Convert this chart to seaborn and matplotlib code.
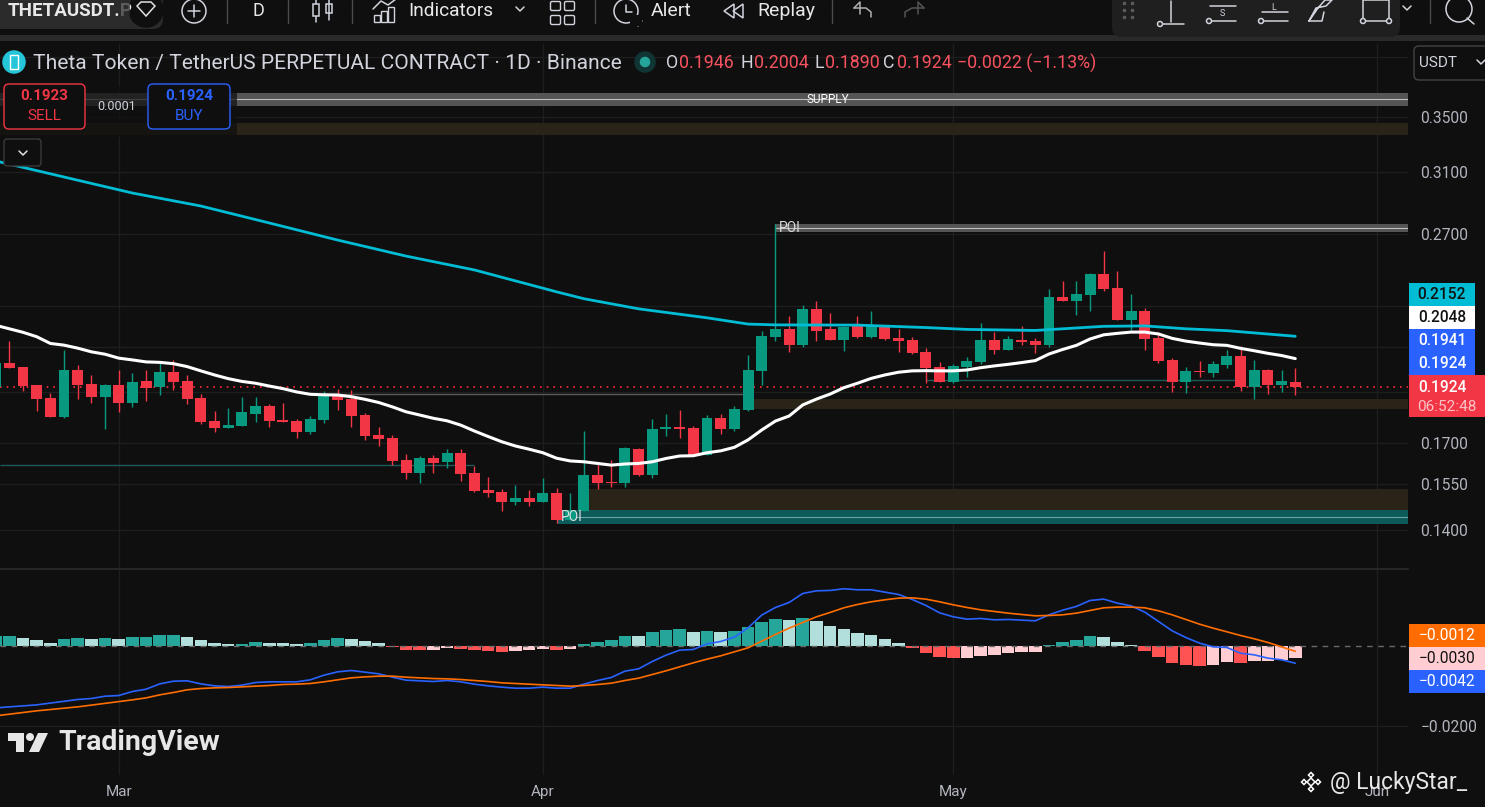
import matplotlib
matplotlib.use("Agg")
import matplotlib.pyplot as plt
import seaborn as sns
from matplotlib.patches import Circle, FancyBboxPatch, Polygon, Rectangle

# Daily candles, left to right. Day 9 = 1 Mar, 40 = 1 Apr, 70 = 1 May, 101 = 1 Jun
opens = [.1922, .2028, .2010, .1932, .1876, .1799, .1997, .1936, .1880, .1932, .1856, .1948,
         .1923, .1988, .1948, .1876, .1783, .1756, .1763, .1811, .1843, .1787, .1783, .1740,
         .1787, .1885, .1872, .1807, .1729, .1718, .1635, .1589, .1642, .1628, .1661, .1589,
         .1530, .1523, .1490, .1503, .1490, .1520, .1432, .1461, .1582, .1557, .1553, .1676,
         .1582, .1752, .1760, .1756, .1653, .1795, .1752, .1827, .1993, .2148, .2187, .2110,
         .2286, .2187, .2134, .2202, .2148, .2202, .2143, .2134, .2078, .2010, .1944, .2010,
         .2033, .2134, .2087, .2134, .2129, .2110, .2348, .2327, .2358, .2471, .2395, .2231,
         .2276, .2143, .2042, .1944, .1993, .1984, .2019, .2060, .1923, .1997, .1932, .1946]
highs = [.2060, .2129, .2010, .1932, .1897, .2087, .2019, .1975, .1936, .1997, .1984, .1997,
         .2037, .2042, .1975, .1893, .1823, .1835, .1880, .1880, .1852, .1856, .1791, .1803,
         .1906, .1914, .1910, .1815, .1760, .1729, .1657, .1650, .1653, .1676, .1676, .1614,
         .1575, .1534, .1547, .1530, .1571, .1537, .1520, .1744, .1624, .1635, .1683, .1680,
         .1791, .1811, .1827, .1763, .1807, .1811, .1843, .2064, .2177, .2761, .2251, .2306,
         .2327, .2266, .2202, .2251, .2276, .2202, .2187, .2148, .2096, .2033, .2024, .2056,
         .2216, .2172, .2153, .2202, .2143, .2390, .2433, .2433, .2476, .2600, .2487, .2363,
         .2291, .2172, .2051, .2010, .2037, .2037, .2087, .2105, .2042, .2001, .1997, .2004]
lows = [.1922, .2006, .1906, .1823, .1799, .1795, .1872, .1856, .1752, .1819, .1839, .1864,
        .1889, .1910, .1852, .1771, .1740, .1756, .1763, .1779, .1760, .1779, .1718, .1733,
        .1775, .1827, .1760, .1710, .1687, .1617, .1567, .1553, .1589, .1607, .1560, .1523,
        .1507, .1461, .1480, .1477, .1490, .1423, .1432, .1461, .1534, .1540, .1540, .1578,
        .1571, .1725, .1718, .1650, .1653, .1733, .1744, .1823, .1932, .2129, .2078, .2101,
        .2129, .2134, .2082, .2143, .2143, .2134, .2078, .2069, .1940, .1944, .1940, .1966,
        .2024, .2069, .2087, .2110, .2073, .2101, .2327, .2256, .2276, .2380, .2231, .2182,
        .2087, .2028, .1902, .1897, .1966, .1966, .2006, .1906, .1872, .1893, .1902, .1890]
closes = [.2028, .2006, .1927, .1872, .1799, .1997, .1932, .1880, .1932, .1856, .1944, .1919,
          .1988, .1944, .1872, .1779, .1756, .1767, .1819, .1843, .1783, .1779, .1740, .1791,
          .1885, .1868, .1803, .1725, .1714, .1631, .1589, .1642, .1624, .1661, .1586, .1527,
          .1520, .1490, .1503, .1490, .1520, .1432, .1464, .1582, .1553, .1553, .1680, .1582,
          .1752, .1760, .1752, .1653, .1795, .1752, .1831, .1997, .2153, .2187, .2110, .2286,
          .2177, .2134, .2197, .2148, .2202, .2139, .2129, .2073, .2006, .1944, .2015, .2037,
          .2134, .2087, .2139, .2124, .2110, .2348, .2327, .2363, .2471, .2390, .2231, .2276,
          .2139, .2037, .1944, .1993, .1988, .2024, .2060, .1923, .1997, .1932, .1948, .1924]

# White moving average, one value per candle
ma_white = [.2205, .2188, .2171, .2150, .2118, .2110, .2096, .2079, .2068, .2050, .2042, .2033,
            .2031, .2025, .2012, .1993, .1975, .1959, .1947, .1939, .1927, .1916, .1902, .1892,
            .1890, .1889, .1882, .1871, .1858, .1840, .1820, .1807, .1794, .1784, .1767, .1744,
            .1723, .1703, .1687, .1675, .1662, .1642, .1632, .1629, .1623, .1617, .1621, .1623,
            .1629, .1641, .1650, .1651, .1662, .1669, .1682, .1710, .1748, .1783, .1803, .1848,
            .1872, .1893, .1920, .1939, .1960, .1975, .1987, .1993, .1994, .1993, .1993, .1997,
            .2007, .2015, .2022, .2030, .2039, .2069, .2090, .2109, .2139, .2159, .2166, .2172,
            .2172, .2163, .2142, .2129, .2120, .2112, .2109, .2095, .2084, .2072, .2062, .2048]

# Cyan moving average, read at the bends
ma_cyan_days = [0, 5, 10, 15, 20, 25, 30, 35, 41, 43, 47, 52, 55, 57, 63, 68, 71, 76, 79, 81, 84, 87, 90, 95]
ma_cyan = [.3175, .3064, .2957, .2873, .2767, .2664, .2571, .2493, .2375, .2339, .2287, .2242,
           .2211, .2207, .2206, .2194, .2185, .2180, .2192, .2200, .2202, .2188, .2179, .2152]

# MACD pane
macd_days = [0, 3] + list(range(6, 96))
macd_line = [-.01542, -.01467, -.01332, -.01307, -.01249, -.01232, -.01131, -.01073, -.00939, -.00872,
             -.00863, -.00939, -.00989, -.01006, -.00972, -.00905, -.00888, -.00888, -.00888, -.00838,
             -.00721, -.00637, -.00603, -.00645, -.00687, -.00771, -.00846, -.00863, -.00880, -.00855,
             -.00888, -.00947, -.00989, -.01022, -.01048, -.01048, -.01022, -.01048, -.01048, -.00947,
             -.00855, -.00779, -.00620, -.00561, -.00377, -.00218, -.00092, -.00075, .00067, .00126,
             .00235, .00469, .00788, .00980, .01106, .01332, .01399, .01408, .01450, .01425,
             .01425, .01366, .01307, .01182, .01031, .00846, .00746, .00687, .00704, .00670,
             .00679, .00662, .00645, .00796, .00913, .01006, .01156, .01190, .01089, .01022,
             .00863, .00629, .00394, .00226, .00084, -.00008, -.00025, -.00168, -.00210, -.00293,
             -.00335, -.00420]
signal_days = [0, 3, 6] + list(range(10, 96))
signal_line = [-.01743, -.01617, -.01517, -.01341, -.01291, -.01215, -.01156, -.01089, -.01056, -.01039,
               -.01031, -.01014, -.00997, -.00980, -.00955, -.00947, -.00930, -.00888, -.00838, -.00788,
               -.00763, -.00746, -.00746, -.00771, -.00788, -.00805, -.00813, -.00830, -.00855, -.00880,
               -.00913, -.00930, -.00947, -.00964, -.00980, -.00997, -.00980, -.00955, -.00922, -.00855,
               -.00796, -.00704, -.00612, -.00511, -.00411, -.00318, -.00235, -.00134, -.00034, .00134,
               .00302, .00461, .00603, .00746, .00855, .00972, .01056, .01123, .01173, .01215,
               .01223, .01190, .01123, .01047, .00980, .00922, .00880, .00838, .00804, .00771,
               .00779, .00796, .00838, .00905, .00972, .00989, .00989, .00972, .00897, .00796,
               .00679, .00561, .00461, .00369, .00277, .00193, .00101, -.00010, -.00120]
histogram = [.00251, .00268, .00218, .00168, .00092, .00193, .00218, .00193, .00218, .00193, .00243, .00243,
             .00293, .00293, .00243, .00168, .00092, .00067, .00067, .00117, .00092, .00088, .00067, .00092,
             .00168, .00218, .00193, .00142, .00092, -.00008, -.00084, -.00084, -.00080, -.00034, -.00059, -.00084,
             -.00109, -.00134, -.00109, -.00084, -.00059, -.00084, -.00059, .00067, .00117, .00168, .00268, .00264,
             .00369, .00419, .00444, .00369, .00394, .00369, .00394, .00494, .00620, .00696, .00670, .00721,
             .00645, .00520, .00444, .00344, .00293, .00193, .00092, -.00034, -.00159, -.00260, -.00285, -.00281,
             -.00235, -.00210, -.00159, -.00134, -.00130, .00034, .00109, .00159, .00260, .00235, .00109, .00034,
             -.00117, -.00268, -.00419, -.00469, -.00494, -.00469, -.00394, -.00419, -.00369, -.00365, -.00344, -.00300]

price_ticks = [.40, .35, .31, .27, .23, .21, .19, .17, .155, .14]
price_tick_labels = ["", "0.3500", "0.3100", "0.2700", "", "", "", "0.1700", "0.1550", "0.1400"]
month_days = [9, 40, 70, 101]
month_labels = ["Mar", "Apr", "May", "Jun"]
last_price = .1924

BG = "#0f0f0f"
GRID = "#1e1e1e"
UP = "#089981"
DOWN = "#f23645"
TXT = "#b2b5be"
XMIN, XMAX = 0.32, 103.24

sns.set_theme(style="dark", rc={"figure.facecolor": BG, "axes.facecolor": BG})
plt.rcParams["font.family"] = ["Roboto", "DejaVu Sans"]

W, H = 1485, 807
fig = plt.figure(figsize=(W / 100, H / 100), dpi=100)
ax = fig.add_axes([0, (H - 568) / H, 1408 / W, (568 - 37) / H])
ax_m = fig.add_axes([0, (H - 775) / H, 1408 / W, (775 - 569) / H])
days = list(range(len(closes)))

# price pane
ax.set_yscale("log")
colors = [DOWN if c < o else UP for o, c in zip(opens, closes)]
ax.vlines(days, lows, highs, colors=colors, lw=1.0, zorder=3)
ax.bar(days, [max(o, c) - min(o, c) for o, c in zip(opens, closes)],
       bottom=[min(o, c) for o, c in zip(opens, closes)], width=0.8, color=colors, lw=0, zorder=3.1)
sns.lineplot(x=days, y=ma_white, color="white", lw=2.2, ax=ax, zorder=4, errorbar=None)
sns.lineplot(x=ma_cyan_days, y=ma_cyan, color="#00bcd4", lw=2.0, ax=ax, zorder=4, errorbar=None)

# zones drawn on the chart
for start, low, high, col in [(XMIN, .3586, .3691, "#555555"), (XMIN, .3363, .3454, "#2a2418"),
                              (57.0, .2712, .2761, "#555555"), (55.4, .1831, .1872, "#2a2418"),
                              (43.4, .1464, .1534, "#2a2418"), (41.0, .1420, .1464, "#0c5a5a")]:
    ax.fill_between([start, XMAX], low, high, color=col, lw=0, zorder=1)
for start, level, col in [(XMIN, .3640, "#bdbdbd"), (57.0, .2736, "#bdbdbd"), (41.0, .1442, "#6aa5a5")]:
    ax.hlines(level, start, XMAX, colors=col, lw=0.8, zorder=1.2)
ax.hlines(.1892, 24, 55, colors="#5a5a5a", lw=1.0, zorder=1.5)
ax.hlines(.1617, XMIN, 35, colors="#1f5a5a", lw=1.0, zorder=1.5)
ax.hlines(.1955, 68, 91, colors="#1f5a5a", lw=1.0, zorder=1.5)
ax.axhline(last_price, color="#ff2d3f", lw=1.2, ls=(0, (1, 3)), zorder=2)
ax.text(60.8, .3640, "SUPPLY", color="white", fontsize=8.5, ha="center", va="center", zorder=2)
ax.text(57.25, .2736, "POI", color="#dddddd", fontsize=10, ha="left", va="center", zorder=2)
ax.text(42.1, .1442, "POI", color="#dddddd", fontsize=10, ha="center", va="center", zorder=3.5)

ax.set_xlim(XMIN, XMAX)
ax.set_ylim(.1287, .4180)
ax.set_yticks(price_ticks)
ax.set_yticklabels(price_tick_labels)
ax.minorticks_off()
ax.yaxis.tick_right()
ax.set_xticks(month_days, labels=[])
ax.tick_params(axis="y", length=0, pad=9, labelsize=11.2, labelcolor=TXT)
ax.tick_params(axis="x", length=0)
ax.grid(True, color=GRID, lw=1.0)
ax.set_axisbelow(True)

# MACD pane
state = []
prev = 0
for v in histogram:
    if v >= 0:
        state.append("up" if v >= prev else "up_fade")
    else:
        state.append("down" if v <= prev else "down_fade")
    prev = v
sns.barplot(x=days, y=histogram, hue=state, dodge=False, native_scale=True, width=0.92, saturation=1,
            palette={"up": "#26a69a", "up_fade": "#b2dfdb", "down": "#ff5252", "down_fade": "#ffcdd2"},
            legend=False, linewidth=0, ax=ax_m, zorder=2)
sns.lineplot(x=macd_days, y=macd_line, color="#2962ff", lw=1.2, ax=ax_m, zorder=3, errorbar=None)
sns.lineplot(x=signal_days, y=signal_line, color="#ff6d00", lw=1.2, ax=ax_m, zorder=3.1, errorbar=None)
ax_m.axhline(0, color="#6a6a6a", lw=1.0, ls=(0, (4, 4)), zorder=2.5)
ax_m.set_xlim(XMIN, XMAX)
ax_m.set_ylim(-.03229, .01947)
ax_m.set_yticks([-.02])
ax_m.set_yticklabels(["\u22120.0200"])
ax_m.yaxis.tick_right()
ax_m.set_xticks(month_days, month_labels)
ax_m.tick_params(axis="y", length=0, pad=9, labelsize=11.2, labelcolor=TXT)
ax_m.tick_params(axis="x", length=0, pad=7, labelsize=11, labelcolor=TXT)
ax_m.grid(True, color=GRID, lw=1.0)
ax_m.set_axisbelow(True)

for a in (ax, ax_m):
    a.set_xlabel("")
    a.set_ylabel("")
    for s in ("left", "right", "top", "bottom"):
        a.spines[s].set_visible(False)
ax_m.spines["top"].set_visible(True)
ax_m.spines["top"].set_color("#2a2a2a")

# screen furniture in pixel coordinates
ui = fig.add_axes([0, 0, 1, 1], zorder=10, facecolor="none")
ui.set_xlim(0, W)
ui.set_ylim(H, 0)
ui.axis("off")


def rect(x0, y0, x1, y1, color, alpha=1, z=1):
    ui.add_patch(Rectangle((x0, y0), x1 - x0, y1 - y0, fc=color, ec="none", alpha=alpha, zorder=z))


def rbox(x0, y0, x1, y1, fc, ec, r=4, z=2):
    ui.add_patch(FancyBboxPatch((x0 + r, y0 + r), x1 - x0 - 2 * r, y1 - y0 - 2 * r,
                                boxstyle=f"round,pad={r}", fc=fc, ec=ec, lw=1, zorder=z))


def label(x, y, s, color="#d1d4dc", size=11, ha="left", weight="normal", alpha=1):
    ui.text(x, y, s, color=color, fontsize=size, ha=ha, va="center", fontweight=weight, alpha=alpha, zorder=5)


def line(xs, ys, color="#d1d4dc", lw=1.1):
    ui.plot(xs, ys, color=color, lw=lw, zorder=4, solid_capstyle="round")


def ring(x, y, r, color="#d1d4dc", fc="none", lw=1.1):
    ui.add_patch(Circle((x, y), r, ec=color, fc=fc, lw=lw, zorder=4))


def chevron(x, y, s=4, color="#d1d4dc"):
    line([x - s, x, x + s], [y - s / 2, y + s / 2, y - s / 2], color)


# toolbar
rect(0, 0, W, 35, BG)
rect(0, 35, W, 41, "#2a2a2a")
rect(0, 41, 1408, 44, BG)
rbox(-10, -10, 163, 29, "#2b2b2b", "none", r=10)
label(8, 11, "THETAUSDT.P", "#e8e8e8", 13.5, weight="bold")
rect(118, 0, 130, 29, "#2b2b2b", 0.75, z=6)
ring(146, 10, 17, "#0f0f0f", "#0f0f0f")
ui.add_patch(Polygon([(137, 6), (141, 2), (151, 2), (155, 6), (146, 16)], fc="none", ec="#e0e0e0", lw=1.1, zorder=5))
ring(194, 11, 12)
line([188, 200], [11, 11])
line([194, 194], [5, 17])
for sx in (227, 288, 352, 595, 832, 1430):
    line([sx, sx], [0, 23], "#4a4a4a", 1.0)
label(258, 11, "D", "#e8e8e8", 13, ha="center")
line([316, 316], [0, 22])
line([329, 329], [0, 20])
rect(313, 4, 319, 16, BG, z=4.5)
ui.add_patch(Rectangle((313, 4), 6, 12, fc="none", ec="#d1d4dc", lw=1.1, zorder=5))
ui.add_patch(Rectangle((326, 4), 6, 9, fc="none", ec="#d1d4dc", lw=1.1, zorder=5))
for bx, top in [(374, 15), (381, 11), (388, 7)]:
    ui.add_patch(Rectangle((bx, top), 6, 22 - top, fc="none", ec="#d1d4dc", lw=1.0, zorder=5))
line([373, 381, 388, 396], [9, 1, 5, -1])
label(408, 11, "Indicators", "#e8e8e8", 13.8)
chevron(520, 9)
for gx in (552, 566):
    for gy in (3, 17):
        ui.add_patch(FancyBboxPatch((gx, gy), 7, 6, boxstyle="round,pad=1.5", fc="none", ec="#d1d4dc", lw=1.0, zorder=5))
ring(626, 11, 12)
line([626, 626, 632], [5, 12, 12])
rect(630, 15, 642, 26, BG, z=4.5)
line([634, 642], [21, 21])
line([638, 638], [16, 26])
label(651, 11, "Alert", "#e8e8e8", 14)
ui.add_patch(Polygon([(734, 4), (734, 18), (724, 11)], fc="none", ec="#d1d4dc", lw=1.1, zorder=5))
ui.add_patch(Polygon([(743, 4), (743, 18), (733, 11)], fc="none", ec="#d1d4dc", lw=1.1, zorder=5))
label(757, 11, "Replay", "#e8e8e8", 14)
line([854, 860, 860], [8, 2, 14], "#b0b0b0")
line([854, 866, 871, 871], [8, 8, 12, 17], "#b0b0b0")
line([924, 918, 918], [8, 2, 14], "#555555")
line([924, 912, 905, 905], [8, 8, 12, 17], "#555555")

# drawing tools panel
rbox(1112, -12, 1400, 37, "#1f1f1f", "none", r=10)
for dy in (3, 10, 17):
    for dx in (1124, 1132):
        ui.plot([dx], [dy], "s", ms=1.5, color="#5a5a5a", zorder=4)
ring(1160, 24, 2.5)
line([1163, 1184], [24, 24])
line([1171, 1171], [22, 1])
ring(1209, 21, 2.5)
line([1212, 1236], [21, 21])
line([1210, 1236], [6, 6])
label(1222, 14, "S", "#d1d4dc", 6.5, ha="center")
ring(1261, 21, 2.5)
line([1264, 1288], [21, 21])
line([1262, 1288], [12, 12])
label(1274, 7, "L", "#d1d4dc", 6.5, ha="center")
line([1309, 1316, 1326, 1332, 1325, 1318, 1309], [21, 8, 6, 0, 0, 8, 21])
line([1309, 1322, 1324], [21, 21, 12])
ui.add_patch(Rectangle((1363, 0), 26, 21, fc="none", ec="#d1d4dc", lw=1.1, zorder=4))
ring(1363, 21, 2.5, fc="#1f1f1f")
ring(1389, 21, 2.5, fc="#1f1f1f")
chevron(1407, 8)
ring(1459, 9, 13)
line([1467, 1474], [18, 24])

# legend row
ring(14, 62, 11, "#26c6da", "#26c6da")
ui.add_patch(Rectangle((10, 55), 8, 14, fc="none", ec="white", lw=1.0, zorder=5))
label(33, 63, "Theta Token / TetherUS PERPETUAL CONTRACT \u00b7 1D \u00b7 Binance", "#d1d4dc", 15.15)
ring(645, 62, 10, "#103534", "#103534")
ring(645, 62, 4.5, "#26a69a", "#26a69a")
for x, s in [(666, "O"), (740, "H"), (814, "L"), (883, "C")]:
    label(x, 63, s, "#d1d4dc", 12.8)
for x, s in [(679, "0.1946"), (754, "0.2004"), (825, "0.1890"), (897, "0.1924"), (957, "\u22120.0022 (\u22121.13%)")]:
    label(x, 63, s, "#f7525f", 12.8)
rbox(1414, 46, 1492, 80, BG, "#444444", r=5)
label(1419, 63, "USDT", "#d1d4dc", 11)
chevron(1481, 62)

# order buttons and chevron
rect(0, 86, 237, 137, BG, 0.72)
label(117, 106, "0.0001", "#d1d4dc", 9, ha="center")
rbox(4, 84, 85, 129, BG, "#f23645", r=5)
label(44.5, 96, "0.1923", "#f23645", 11, ha="center", weight="bold")
label(44.5, 116, "SELL", "#f23645", 11, ha="center")
rbox(148, 84, 230, 129, BG, "#2962ff", r=5)
label(189, 96, "0.1924", "#2962ff", 11, ha="center", weight="bold")
label(189, 116, "BUY", "#2962ff", 11, ha="center")
rbox(4, 139, 41, 166, BG, "#3a3a3a", r=3)
chevron(23, 153, 4, "#e0e0e0")

# value tags on the scales
tags = [(283, 306, "#00bcd4", "0.2152", "#111111"), (306, 329, "#ffffff", "0.2048", "#111111"),
        (329, 352, "#2962ff", "0.1941", "#ffffff"), (352, 375, "#2962ff", "0.1924", "#ffffff")]
for y0, y1, col, s, tc in tags:
    rect(1409, y0, 1475, y1, col, z=2)
    label(1442, (y0 + y1) / 2, s, tc, 11.2, ha="center", weight="medium")
rect(1409, 375, W, 417, "#f23645", z=2)
label(1442, 387, "0.1924", "white", 11.2, ha="center", weight="medium")
label(1447, 407, "06:52:48", "white", 11, ha="center", alpha=0.7)
for y0, y1, col, s, tc in [(624, 647, "#ff6d00", "\u22120.0012", "white"), (647, 670, "#ffcdd2", "\u22120.0030", "#111111"),
                           (670, 693, "#2962ff", "\u22120.0042", "white")]:
    rect(1409, y0, W, y1, col, z=2)
    label(1447, (y0 + y1) / 2, s, tc, 11.2, ha="center")

# logos
ui.add_patch(Polygon([(8, 733), (24, 733), (24, 752), (16, 752), (16, 741), (8, 741)], fc="#e6e6e6", ec="none", zorder=5))
ring(30, 737, 4, "#e6e6e6", "#e6e6e6", 0)
ui.add_patch(Polygon([(38, 733), (48, 733), (39, 752), (29, 752)], fc="#e6e6e6", ec="none", zorder=5))
label(58, 743, "TradingView", "#e6e6e6", 20.5, weight="bold")
for cx, cy, s in [(1311, 782, 4), (1304, 782, 2.5), (1318, 782, 2.5), (1311, 775, 2.5), (1311, 789, 2.5)]:
    ui.add_patch(Polygon([(cx - s, cy), (cx, cy - s), (cx + s, cy), (cx, cy + s)], fc="none", ec="white", lw=1.1, zorder=5))
label(1330, 782, "@ LuckyStar_", "white", 16.5, alpha=0.9)

fig.savefig("out.png", dpi=100, facecolor=BG)
